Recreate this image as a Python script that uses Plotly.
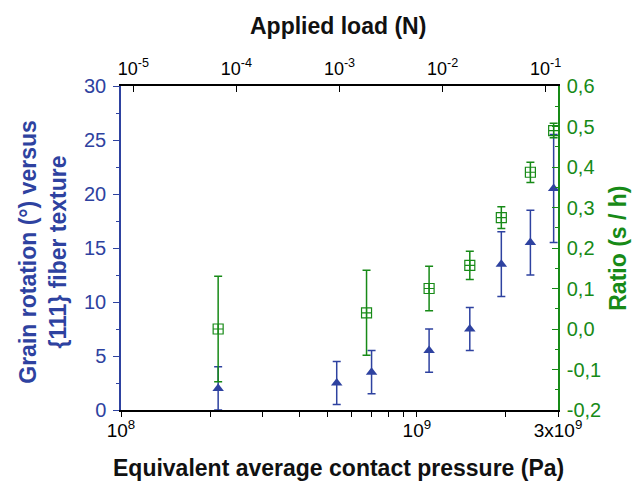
import plotly.graph_objects as go

# --- data ---
rot_pressure = [2.13e8, 5.36e8, 7.03e8, 1.10e9, 1.51e9, 1.93e9, 2.42e9, 2.90e9]
rot_values = [2.0, 2.5, 3.5, 5.5, 7.5, 13.5, 15.5, 20.5]
rot_errors = [2.0, 2.0, 2.0, 2.0, 2.0, 3.0, 3.0, 5.0]

ratio_pressure = [2.13e8, 6.76e8, 1.10e9, 1.51e9, 1.93e9, 2.42e9, 2.90e9]
ratio_values = [0.0, 0.04, 0.10, 0.157, 0.275, 0.387, 0.49]
ratio_errors = [0.13, 0.105, 0.055, 0.035, 0.027, 0.025, 0.018]

bottom_tickvals = [1e8, 2e8, 3e8, 4e8, 5e8, 6e8, 7e8, 8e8, 9e8, 1e9, 2e9, 3e9]
bottom_ticktext = ["10<sup>8</sup>", "", "", "", "", "", "", "", "", "10<sup>9</sup>", "", "3x10<sup>9</sup>"]
top_tickvals = [1e-5, 1e-4, 1e-3, 1e-2, 1e-1]
top_ticktext = ["10<sup>-5</sup>", "10<sup>-4</sup>", "10<sup>-3</sup>", "10<sup>-2</sup>", "10<sup>-1</sup>"]
left_tickvals = [0, 5, 10, 15, 20, 25, 30]
right_tickvals = [-0.2, -0.1, 0.0, 0.1, 0.2, 0.3, 0.4, 0.5, 0.6]
right_ticktext = ["-0,2", "-0,1", "0,0", "0,1", "0,2", "0,3", "0,4", "0,5", "0,6"]

BLUE = "#2e42a0"
GREEN = "#178a17"
FONT = "Liberation Sans, Arial, sans-serif"

# plot-area geometry (pixels)
W, H = 643, 482
L, R, T, B = 121, 558, 86, 410.5


def px(x):
    return (x - L) / (R - L)


def py(y):
    return (B - y) / (B - T)


fig = go.Figure()

fig.add_trace(go.Scatter(
    x=ratio_pressure, y=ratio_values, xaxis="x", yaxis="y2", mode="markers",
    marker=dict(symbol="square-cross-open", size=10, color=GREEN, line=dict(width=1.2, color=GREEN)),
    error_y=dict(type="data", array=ratio_errors, color=GREEN, thickness=1.5, width=4),
    cliponaxis=False, showlegend=False,
))
fig.add_trace(go.Scatter(
    x=rot_pressure, y=rot_values, xaxis="x", yaxis="y", mode="markers",
    marker=dict(symbol="triangle-up", size=10, color=BLUE),
    error_y=dict(type="data", array=rot_errors, color=BLUE, thickness=1.5, width=4),
    cliponaxis=False, showlegend=False,
))
# invisible trace to anchor the top axis
fig.add_trace(go.Scatter(
    x=top_tickvals, y=[None] * len(top_tickvals), xaxis="x2", yaxis="y",
    mode="markers", marker=dict(opacity=0), showlegend=False, hoverinfo="skip",
))

fig.update_layout(
    width=W, height=H,
    margin=dict(l=L, r=W - R, t=T, b=H - B),
    paper_bgcolor="white", plot_bgcolor="white",
    font=dict(family=FONT, size=16, color="black"),
    showlegend=False,
    xaxis=dict(
        type="log", range=[8, 9.4771], automargin=False,
        tickvals=bottom_tickvals, ticktext=bottom_ticktext,
        ticks="outside", ticklen=5, tickwidth=1, tickcolor="black",
        ticklabelstandoff=-3,
        showline=True, linecolor="black", linewidth=1.5,
        showgrid=False, zeroline=False,
        tickfont=dict(size=19, color="black"),
    ),
    xaxis2=dict(
        type="log", range=[-5.12, -0.88], overlaying="x", side="top", anchor="y",
        automargin=False,
        tickvals=top_tickvals, ticktext=top_ticktext,
        ticks="inside", ticklen=6, tickwidth=1, tickcolor="black",
        ticklabelstandoff=2,
        showline=True, linecolor="black", linewidth=1.5,
        showgrid=False, zeroline=False,
        tickfont=dict(size=18, color="black"),
    ),
    yaxis=dict(
        range=[0, 30], tickvals=left_tickvals, automargin=False,
        ticks="outside", ticklen=6, tickwidth=1, tickcolor=BLUE,
        ticklabelstandoff=3,
        minor=dict(dtick=2.5, ticks="outside", ticklen=3, tickcolor=BLUE),
        showline=True, linecolor=BLUE, linewidth=1.5,
        showgrid=False, zeroline=False,
        tickfont=dict(size=20, color=BLUE),
    ),
    yaxis2=dict(
        range=[-0.2, 0.6], overlaying="y", side="right", anchor="x", automargin=False,
        tickvals=right_tickvals, ticktext=right_ticktext,
        ticks="inside", ticklen=6, tickwidth=1, tickcolor=GREEN,
        ticklabelstandoff=3,
        minor=dict(dtick=0.05, tick0=0, ticks="inside", ticklen=3, tickcolor=GREEN),
        showline=True, linecolor=GREEN, linewidth=1.5,
        showgrid=False, zeroline=False,
        tickfont=dict(size=20, color=GREEN),
    ),
    annotations=[
        dict(text="<b>Applied load (N)</b>", xref="paper", yref="paper",
             x=px(338), y=py(26), xanchor="center", yanchor="middle", showarrow=False,
             font=dict(size=23, color="#111")),
        dict(text="<b>Equivalent average contact pressure (Pa)</b>", xref="paper", yref="paper",
             x=px(338), y=py(469), xanchor="center", yanchor="middle", showarrow=False,
             font=dict(size=23, color="#111")),
        dict(text="<b>Grain rotation (°) versus<br>{111} fiber texture</b>", xref="paper", yref="paper",
             x=px(43), y=py(252), xanchor="center", yanchor="middle", showarrow=False,
             textangle=-90, font=dict(size=23, color=BLUE)),
        dict(text="<b>Ratio (s / h)</b>", xref="paper", yref="paper",
             x=px(618), y=py(249), xanchor="center", yanchor="middle", showarrow=False,
             textangle=-90, font=dict(size=23, color=GREEN)),
    ],
)

fig.write_html(
    "out.html",
    config={"displayModeBar": False},
    post_script="document.body.style.margin='0';document.body.style.padding='0';document.body.style.overflow='hidden';",
)
